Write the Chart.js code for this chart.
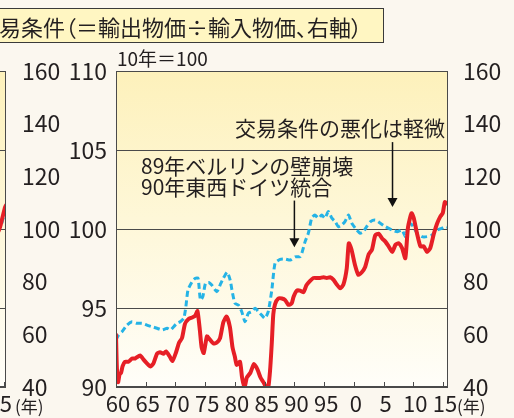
<!DOCTYPE html>
<html lang="ja">
<head>
<meta charset="utf-8">
<script src="https://cdn.jsdelivr.net/npm/chart.js"></script>
<style>
  body { margin: 0; width: 514px; height: 418px; overflow: hidden; position: relative;
         background: #fbf7ef; font-family: "Noto Sans CJK JP", sans-serif; color: #231f20; }
  canvas { position: absolute; top: 0; }
  #main { left: 0; }
  #prev { left: -338px; }
  .txt { position: absolute; white-space: nowrap; line-height: 1; }
  #legendBox { position: absolute; left: -4px; top: 8px; width: 388px; height: 35px; box-sizing: border-box;
               border: 1.5px solid #3a3a3a; background: #fff6c2; }
</style>
</head>
<body>
<canvas id="prev" width="400" height="418"></canvas>
<canvas id="main" width="514" height="418"></canvas>
<div id="legendBox"></div>
<div class="txt" style="left:-23px; top:15px; font-size:22px; font-feature-settings:'palt';">交易条件（＝輸出物価÷輸入物価、右軸）</div>
<div class="txt" style="left:117px; top:48px; font-size:19px;">10年＝100</div>
<div class="txt" style="left:235px; top:117px; font-size:21px;">交易条件の悪化は軽微</div>
<div class="txt" style="left:141px; top:155px; font-size:21px; line-height:21px;">89年ベルリンの壁崩壊<br>90年東西ドイツ統合</div>
<div class="txt" style="left:457px; top:397px; font-size:17px;">(年)</div>
<div class="txt" style="left:15px; top:397px; font-size:17px;">(年)</div>
<script>
// x axis
const xTickYears = [1960, 1965, 1970, 1975, 1980, 1985, 1990, 1995, 2000, 2005, 2010, 2015];
const xTickLabels = ['60', '65', '70', '75', '80', '85', '90', '95', '0', '5', '10', '15'];

// red line, left axis (10年=100)
const redYears = [
  1960.0, 1960.15, 1960.35, 1960.6, 1960.85, 1961.1, 1961.5, 1962.1, 1962.7, 1963.2,
  1964.05, 1964.6, 1965.2, 1965.8, 1966.3, 1966.9, 1967.4, 1968.0, 1968.4, 1969.0,
  1969.5, 1970.1, 1970.6, 1971.1, 1971.6, 1972.2, 1972.8, 1973.3, 1973.7, 1974.1,
  1974.4, 1974.75, 1975.3, 1975.8, 1976.4, 1976.9, 1977.5, 1978.05, 1978.6, 1979.15,
  1979.6, 1980.0, 1980.3, 1980.85, 1981.2, 1981.6, 1982.0, 1982.6, 1983.2, 1983.8,
  1984.3, 1984.8, 1985.3, 1985.6, 1985.9, 1986.2, 1986.45, 1986.75, 1987.3, 1987.9,
  1988.45, 1989.0, 1989.55, 1989.85, 1990.4, 1990.95, 1991.5, 1992.05, 1992.6, 1993.2,
  1993.8, 1994.3, 1994.9, 1995.45, 1996.0, 1996.55, 1997.1, 1997.7, 1998.25, 1998.8,
  1999.15, 1999.6, 2000.2, 2000.75, 2001.3, 2001.9, 2002.5, 2003.05, 2003.6, 2004.2,
  2004.75, 2005.3, 2005.85, 2006.45, 2007.0, 2007.55, 2008.1, 2008.65, 2009.1, 2009.7,
  2010.1, 2010.6, 2011.2, 2011.75, 2012.3, 2012.85, 2013.45, 2014.0, 2014.55, 2014.95,
  2015.3, 2015.75
];
const redValues = [
  93.3, 91.2, 90.3, 90.8, 90.9, 91.3, 91.6, 91.6, 91.8, 91.8,
  92.0, 91.75, 91.5, 91.3, 91.5, 92.1, 92.2, 92.1, 92.25, 91.95,
  91.65, 92.2, 92.8, 93.1, 94.0, 94.3, 94.4, 94.5, 94.8, 93.6,
  92.5, 92.15, 93.2, 93.0, 92.75, 92.8, 93.1, 94.1, 94.45, 93.8,
  92.5, 91.9, 91.4, 91.6, 90.6, 89.95, 90.6, 90.9, 91.45, 91.1,
  90.6, 90.3, 89.95, 89.95, 91.0, 92.8, 94.6, 95.25, 95.6, 95.6,
  95.5, 95.2, 95.3, 95.7, 96.1, 96.1, 96.0, 96.45, 96.7, 96.9,
  96.9, 96.9, 96.95, 96.9, 96.95, 96.8, 96.5, 96.25, 96.5, 97.5,
  99.1, 98.7, 97.7, 97.1, 97.25, 97.6, 98.4, 98.7, 99.6, 99.7,
  99.4, 99.2, 98.9, 98.55, 99.0, 99.1, 98.8, 98.15, 100.1, 101.0,
  100.65, 99.75, 98.9, 98.9, 98.55, 98.8, 99.7, 100.35, 100.8, 101.0,
  101.7, 101.6
];

// blue dashed line, right axis (交易条件)
const blueYears = [
  1960.0, 1960.45, 1961.0, 1961.85, 1962.7, 1963.5, 1964.4, 1965.2, 1966.05, 1966.9,
  1967.75, 1968.6, 1969.15, 1969.7, 1970.25, 1970.8, 1971.4, 1971.75, 1972.1, 1972.8,
  1973.35, 1973.8, 1974.2, 1974.6, 1975.05, 1975.6, 1976.1, 1976.95, 1977.5, 1978.05,
  1978.7, 1979.2, 1979.5, 1980.0, 1980.6, 1981.15, 1981.7, 1982.25, 1982.8, 1983.4,
  1983.95, 1984.5, 1985.05, 1985.6, 1986.2, 1986.75, 1987.6, 1988.45, 1989.3, 1990.1,
  1990.95, 1991.25, 1991.8, 1992.35, 1992.9, 1993.45, 1994.05, 1994.6, 1995.15, 1995.7,
  1996.3, 1996.85, 1997.4, 1997.95, 1998.5, 1999.1, 1999.65, 2000.5, 2001.05, 2001.6,
  2002.15, 2002.8, 2003.6, 2004.45, 2005.3, 2006.45, 2007.3, 2008.1, 2008.7, 2009.25,
  2009.8, 2010.65, 2011.45, 2012.3, 2013.15, 2014.0, 2014.85, 2015.4, 2015.75
];
const blueValues = [
  57.9, 59.8, 61.0, 63.5, 64.8, 64.2, 64.2, 63.5, 62.9, 62.3,
  61.7, 62.3, 61.7, 62.9, 64.2, 64.8, 66.1, 70.5, 76.8, 80.0,
  81.3, 81.3, 73.0, 74.3, 79.4, 79.7, 78.7, 76.2, 78.7, 81.3,
  83.6, 80.6, 76.8, 71.8, 71.1, 68.6, 64.8, 68.0, 68.6, 69.9,
  68.6, 67.3, 66.1, 68.6, 76.8, 87.0, 88.5, 88.6, 88.2, 89.4,
  89.5, 90.8, 95.2, 98.4, 104.1, 105.3, 104.1, 105.3, 104.1, 106.6,
  104.1, 102.8, 100.9, 101.5, 102.8, 105.3, 102.2, 99.6, 98.4, 99.0,
  100.9, 102.8, 103.4, 102.2, 100.9, 99.6, 99.0, 99.6, 97.1, 102.2,
  101.5, 98.4, 97.1, 97.1, 97.7, 99.6, 100.3, 100.9, 100.7
];

// the neighbouring panel on the left, only its last months show
const prevRedYears = [2013.8, 2014.3, 2015.1, 2015.3];
const prevRedValues = [98, 100.8, 108, 109];
const prevBlueYears = [2013.8, 2014.5, 2014.9, 2015.3];
const prevBlueValues = [99, 101.5, 104.6, 105.5];

// annotation arrows (year, start, tip in left-axis units)
const arrowYears = [2006.5, 1990];
const arrowFrom = [105.5, 101.8];
const arrowTo = [101.4, 98.85];

Chart.defaults.font.family = '"Noto Sans CJK JP", sans-serif';
Chart.defaults.color = '#231f20';

const pts = (xs, ys) => xs.map((x, i) => ({ x: x, y: ys[i] }));

const RED = '#e61f26';
const BLUE = '#25b3e6';

// plot background, frame and the small inward x ticks
const panel = {
  id: 'panel',
  beforeDraw(chart) {
    const { ctx, chartArea: a } = chart;
    const g = ctx.createLinearGradient(0, a.top, 0, a.bottom);
    g.addColorStop(0, '#fdf1bb');
    g.addColorStop(1, '#fffef9');
    ctx.save();
    ctx.fillStyle = g;
    ctx.fillRect(a.left, a.top, a.width, a.height);
    ctx.restore();
  },
  afterDraw(chart) {
    const { ctx, chartArea: a, scales } = chart;
    ctx.save();
    ctx.strokeStyle = '#4a4a4a';
    ctx.lineWidth = 1;
    ctx.strokeRect(Math.round(a.left) + 0.5, Math.round(a.top) + 0.5, Math.round(a.width) - 1, Math.round(a.height) - 1);
    ctx.beginPath();
    scales.x.ticks.forEach(t => {
      const px = Math.round(scales.x.getPixelForValue(t.value)) + 0.5;
      ctx.moveTo(px, a.bottom);
      ctx.lineTo(px, a.bottom - 5);
    });
    ctx.stroke();
    ctx.restore();
  }
};

const arrows = {
  id: 'arrows',
  afterDatasetsDraw(chart) {
    const { ctx, scales } = chart;
    ctx.save();
    ctx.strokeStyle = '#111';
    ctx.fillStyle = '#111';
    ctx.lineWidth = 1.5;
    arrowYears.forEach((yr, i) => {
      const x = scales.x.getPixelForValue(yr);
      const y0 = scales.yL.getPixelForValue(arrowFrom[i]);
      const y1 = scales.yL.getPixelForValue(arrowTo[i]);
      ctx.beginPath();
      ctx.moveTo(x, y0);
      ctx.lineTo(x, y1 - 8);
      ctx.stroke();
      ctx.beginPath();
      ctx.moveTo(x - 5, y1 - 9);
      ctx.lineTo(x + 5, y1 - 9);
      ctx.lineTo(x, y1);
      ctx.closePath();
      ctx.fill();
    });
    ctx.restore();
  }
};

function xScale(max, offset) {
  return {
    type: 'linear', min: 1960, max: max,
    afterBuildTicks: s => { s.ticks = xTickYears.map(v => ({ value: v })); },
    afterFit: s => { s.height = 31; },
    grid: { display: false },
    border: { display: false },
    ticks: {
      callback: (v, i) => xTickLabels[i],
      font: { size: 22 }, padding: -5, labelOffset: offset, maxRotation: 0, autoSkip: false
    }
  };
}

const redStyle = { borderColor: RED, borderWidth: 4, pointRadius: 0, tension: 0.2,
                   borderJoinStyle: 'round', borderCapStyle: 'round' };
const blueStyle = { borderColor: BLUE, borderWidth: 3, borderDash: [6, 3.5], pointRadius: 0, tension: 0.2 };

// main panel
new Chart(document.getElementById('main'), {
  type: 'line',
  data: {
    datasets: [
      Object.assign({ label: '指数（左軸）', data: pts(redYears, redValues), yAxisID: 'yL' }, redStyle),
      Object.assign({ label: '交易条件（右軸）', data: pts(blueYears, blueValues), yAxisID: 'yR' }, blueStyle)
    ]
  },
  options: {
    responsive: false,
    animation: false,
    layout: { padding: { top: 71 } },
    plugins: { legend: { display: false }, tooltip: { enabled: false } },
    scales: {
      x: xScale(2015.83, 2),
      yL: {
        position: 'left', min: 90, max: 110,
        afterFit: s => { s.width = 116; },
        ticks: { stepSize: 5, font: { size: 23 }, padding: 9 },
        grid: { color: '#4a4a4a', drawTicks: false },
        border: { display: false }
      },
      yR: {
        position: 'right', min: 40, max: 160,
        afterFit: s => { s.width = 66; },
        ticks: { stepSize: 20, font: { size: 23 }, padding: 7 },
        grid: { display: false },
        border: { display: false }
      }
    }
  },
  plugins: [panel, arrows]
});

// left neighbour panel (mostly off screen)
new Chart(document.getElementById('prev'), {
  type: 'line',
  data: {
    datasets: [
      Object.assign({ label: 'prev red', data: pts(prevRedYears, prevRedValues), yAxisID: 'yR' }, redStyle),
      Object.assign({ label: 'prev blue', data: pts(prevBlueYears, prevBlueValues), yAxisID: 'yR' }, blueStyle)
    ]
  },
  options: {
    responsive: false,
    animation: false,
    layout: { padding: { top: 71 } },
    plugins: { legend: { display: false }, tooltip: { enabled: false } },
    scales: {
      x: xScale(2015.3, -4.5),
      yL: {
        position: 'left', min: 90, max: 110,
        afterFit: s => { s.width = 17; },
        ticks: { stepSize: 5, display: false },
        grid: { color: '#4a4a4a', drawTicks: false },
        border: { display: false }
      },
      yR: {
        position: 'right', min: 40, max: 160,
        afterFit: s => { s.width = 56; },
        ticks: { stepSize: 20, font: { size: 23 }, padding: 8 },
        grid: { display: false },
        border: { display: false }
      }
    }
  },
  plugins: [panel]
});
</script>
</body>
</html>
